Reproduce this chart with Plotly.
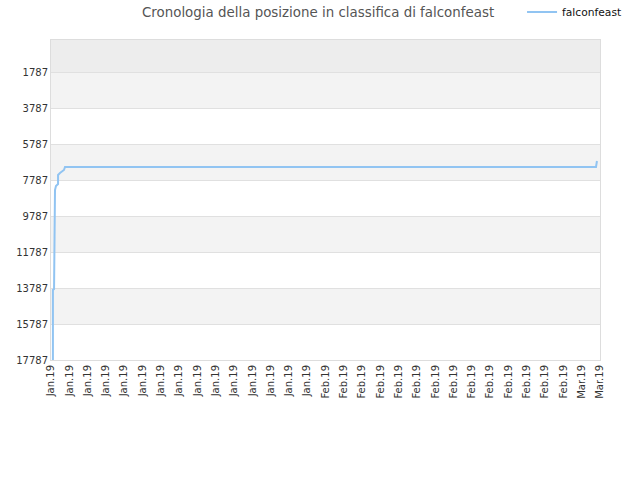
import datetime as dt
import plotly.graph_objects as go

# Data ------------------------------------------------------------------------
player = 'falconfeast'
dates = [
    '2019-01-03 05:00', '2019-01-03 05:00', '2019-01-03 08:00',
    '2019-01-03 10:30', '2019-01-03 13:00', '2019-01-03 18:30',
    '2019-01-03 18:30', '2019-01-03 23:30', '2019-01-04 10:00',
    '2019-01-04 12:45', '2019-03-03 13:30', '2019-03-03 16:00'
]
ranks = [
    17787, 13896, 13840, 8338, 8116, 8005,
    7504, 7393, 7226, 7059, 7059, 6726
]
y_ticks = [1787, 3787, 5787, 7787, 9787, 11787, 13787, 15787, 17787]
x_start, x_end = '2019-01-03', '2019-03-04'
# one tick every two days, Jan 3 -> Mar 4
d0 = dt.datetime(2019, 1, 3)
x_ticks = [d0 + dt.timedelta(days=2 * i) for i in range(31)]

# Plot ------------------------------------------------------------------------
fig = go.Figure()
fig.add_trace(go.Scatter(
    x=dates, y=ranks, name=player, mode='lines',
    line=dict(color='#91c4f2', width=2)
))
# alternating background bands ------------------------------------------------
bands = [0] + y_ticks
for i in range(len(bands) - 1):
    if i == 0:
        col = '#ededed'
    elif i % 2 == 1:
        col = '#f3f3f3'
    else:
        continue
    fig.add_shape(
        type='rect', xref='paper', yref='y', x0=0, x1=1,
        y0=bands[i], y1=bands[i + 1], fillcolor=col,
        line_width=0, layer='below'
    )
fig.update_layout(
    width=640, height=480,
    margin=dict(l=51, r=40, t=40, b=120, autoexpand=False),
    paper_bgcolor='white', plot_bgcolor='white',
    font=dict(family='DejaVu Sans', size=10, color='#333333'),
    title=dict(
        text='Cronologia della posizione in classifica di ' + player,
        x=0.497, xanchor='center', y=0.975, yanchor='middle',
        font=dict(size=13.4, color='#555555')
    ),
    showlegend=True,
    legend=dict(
        x=0.858, xanchor='left', y=1.0875, yanchor='middle',
        itemwidth=30, bgcolor='rgba(0,0,0,0)',
        font=dict(size=10.7, color='#111111')
    )
)
fig.update_xaxes(
    type='date', range=[x_start, x_end], automargin=False,
    tickvals=x_ticks, tickformat='%b.%y', tickangle=-90,
    showgrid=False, zeroline=False, showline=True, mirror=True,
    linecolor='#dddddd', linewidth=1, ticks='', tickfont=dict(size=10)
)
fig.update_yaxes(
    range=[17787, 0], tickvals=y_ticks, tickformat='d', automargin=False,
    showgrid=True, gridcolor='#e0e0e0', gridwidth=1, zeroline=False,
    showline=True, mirror=True, linecolor='#dddddd', linewidth=1,
    ticks='', tickfont=dict(size=10)
)
# drop the default page margin so the figure sits at the window corner
fig.write_html(
    'out.html', config={'displayModeBar': False},
    post_script="document.body.style.margin='0';"
)
